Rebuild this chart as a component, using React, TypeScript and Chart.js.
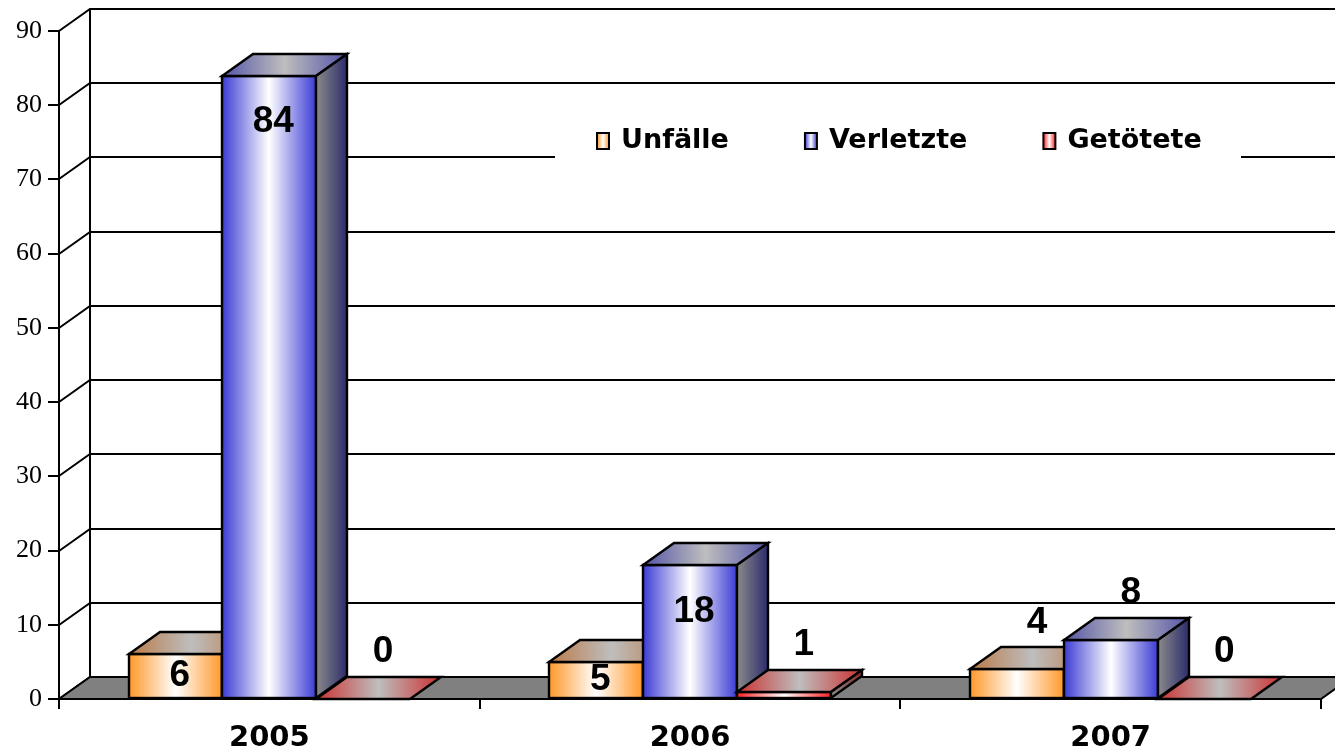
import React, { useEffect, useRef } from 'react';
import { Chart, registerables } from 'chart.js';

Chart.register(...registerables);

// ---- data ----
const categories = ['2005', '2006', '2007'];
const seriesNames = ['Unfälle', 'Verletzte', 'Getötete'];
const unfaelle = [6, 5, 4];
const verletzte = [84, 18, 8];
const getoetete = [0, 1, 0];
const yMin = 0;
const yMax = 90;
const yStep = 10;

// where each value label sits (per series, per category): inside the bar front or above it
const labelPlacement = [
  ['in', 'in', 'out'],
  ['in', 'in', 'out'],
  ['out', 'out', 'out'],
];

// ---- style ----
const seriesStyles = [
  { edge: '#ff982a', top: '#bb7a48', side: '#a0601c' },
  { edge: '#3c3cd4', top: '#5454a8', side: '#2c2c6c' },
  { edge: '#ff1e1e', top: '#cc3030', side: '#8c2a2a' },
];
const DX = 31;
const DY = -22;

function poly(ctx: CanvasRenderingContext2D, pts: number[][]) {
  ctx.beginPath();
  ctx.moveTo(pts[0][0], pts[0][1]);
  for (let i = 1; i < pts.length; i++) ctx.lineTo(pts[i][0], pts[i][1]);
  ctx.closePath();
}

const threeD = {
  id: 'threeD',
  beforeDatasetsDraw(chart: any) {
    const { ctx, chartArea, scales } = chart;
    const ys = scales.y;
    const left = Math.round(chartArea.left);
    const right = Math.round(chartArea.right);
    const top = Math.round(chartArea.top);
    const bottom = Math.round(chartArea.bottom);
    ctx.save();
    ctx.strokeStyle = '#000';
    ctx.lineWidth = 2;
    ctx.lineCap = 'butt';
    // back wall gridlines + side wall diagonals
    ys.ticks.forEach((t: any) => {
      const py = Math.round(ys.getPixelForValue(t.value));
      ctx.beginPath();
      ctx.moveTo(left, py);
      ctx.lineTo(left + DX, py + DY);
      if (t.value > yMin) ctx.lineTo(chart.width + 5, py + DY);
      ctx.stroke();
    });
    ctx.beginPath();
    ctx.moveTo(left + DX, top + DY);
    ctx.lineTo(left + DX, bottom + DY);
    ctx.stroke();
    // floor
    poly(ctx, [
      [left, bottom],
      [right, bottom],
      [right + DX, bottom + DY],
      [left + DX, bottom + DY],
    ]);
    ctx.fillStyle = '#808080';
    ctx.fill();
    ctx.stroke();
    ctx.restore();
  },
  afterDatasetsDraw(chart: any) {
    const { ctx } = chart;
    const metas = seriesNames.map((_, d) => chart.getDatasetMeta(d));
    ctx.save();
    ctx.strokeStyle = '#000';
    ctx.lineWidth = 2.4;
    ctx.lineJoin = 'miter';
    for (let i = 0; i < categories.length; i++) {
      for (let d = 0; d < metas.length; d++) {
        const el = metas[d].data[i];
        if (!el) continue;
        const st = seriesStyles[d];
        const l = Math.round(el.x - el.width / 2);
        const r = Math.round(el.x + el.width / 2);
        const w = r - l;
        const y = Math.round(el.y);
        const b = Math.round(el.base);
        // front
        if (b - y > 0.5) {
          const g = ctx.createLinearGradient(l, 0, r, 0);
          g.addColorStop(0, st.edge);
          g.addColorStop(0.5, '#ffffff');
          g.addColorStop(1, st.edge);
          ctx.fillStyle = g;
          ctx.fillRect(l, y, w, b - y);
          ctx.strokeRect(l, y, w, b - y);
        }
        // top
        const gt = ctx.createLinearGradient(l, 0, r + DX, 0);
        gt.addColorStop(0, st.top);
        gt.addColorStop(0.5, '#bebebe');
        gt.addColorStop(1, st.top);
        poly(ctx, [
          [l, y],
          [r, y],
          [r + DX, y + DY],
          [l + DX, y + DY],
        ]);
        ctx.fillStyle = gt;
        ctx.fill();
        ctx.stroke();
        // side
        if (b - y > 0.5) {
          const gs = ctx.createLinearGradient(r, 0, r + DX, 0);
          gs.addColorStop(0, '#8a8a8a');
          gs.addColorStop(1, st.side);
          poly(ctx, [
            [r, y],
            [r + DX, y + DY],
            [r + DX, b + DY],
            [r, b],
          ]);
          ctx.fillStyle = gs;
          ctx.fill();
          ctx.stroke();
        }
      }
    }
    // value labels
    ctx.fillStyle = '#000';
    ctx.font = 'bold 37px "Liberation Sans", Arial, sans-serif';
    ctx.textAlign = 'center';
    ctx.textBaseline = 'middle';
    for (let d = 0; d < metas.length; d++) {
      const vals = chart.data.datasets[d].data;
      metas[d].data.forEach((el: any, i: number) => {
        const y = el.y;
        const b = el.base;
        let lx: number;
        let ly: number;
        if (labelPlacement[d][i] === 'in') {
          lx = el.x + 4;
          ly = Math.min(y + 46, (y + b) / 2);
        } else {
          lx = el.x + 20;
          ly = y - 47;
        }
        ctx.fillText(String(vals[i]), lx, ly);
      });
    }
    ctx.restore();
  },
  afterDraw(chart: any) {
    const { ctx } = chart;
    ctx.save();
    // legend background
    ctx.fillStyle = '#ffffff';
    ctx.fillRect(555, 118, 686, 52);
    ctx.font = 'bold 27px "DejaVu Sans", Verdana, sans-serif';
    ctx.textBaseline = 'middle';
    ctx.textAlign = 'left';
    let x = 597;
    const cy = 141;
    seriesNames.forEach((name, d) => {
      const st = seriesStyles[d];
      const bw = 12;
      const bh = 16;
      const g = ctx.createLinearGradient(x, 0, x + bw, 0);
      g.addColorStop(0, st.edge);
      g.addColorStop(0.5, '#ffffff');
      g.addColorStop(1, st.edge);
      ctx.fillStyle = g;
      ctx.fillRect(x, cy - bh / 2, bw, bh);
      ctx.strokeStyle = '#000';
      ctx.lineWidth = 2;
      ctx.strokeRect(x, cy - bh / 2, bw, bh);
      ctx.fillStyle = '#000';
      const tx = x + bw + 12;
      ctx.fillText(name, tx, cy);
      x = tx + ctx.measureText(name).width + 76;
    });
    ctx.restore();
  },
};

export default function App() {
  const ref = useRef<HTMLCanvasElement>(null);
  useEffect(() => {
    document.body.style.margin = '0';
    const seriesValues = [unfaelle, verletzte, getoetete];
    const chart = new Chart(ref.current as HTMLCanvasElement, {
      type: 'bar',
      data: {
        labels: categories,
        datasets: seriesNames.map((name, i) => ({
          label: name,
          data: seriesValues[i],
          backgroundColor: 'rgba(0,0,0,0)',
          borderWidth: 0,
          categoryPercentage: 0.668,
          barPercentage: 1,
        })),
      },
      options: {
        responsive: false,
        animation: false,
        devicePixelRatio: 1,
        events: [],
        layout: { padding: { top: 31, right: 14, left: 0, bottom: 0 } },
        plugins: { legend: { display: false }, tooltip: { enabled: false } },
        scales: {
          x: {
            type: 'category',
            offset: true,
            grid: { offset: true, drawOnChartArea: false, color: '#000', lineWidth: 2, tickLength: 10 },
            border: { color: '#000', width: 2 },
            ticks: {
              color: '#000',
              font: { family: '"DejaVu Sans"', size: 29, weight: 'bold' },
              padding: 12,
              maxRotation: 0,
              autoSkip: false,
            },
            afterFit: (s: any) => {
              s.height = 51;
            },
          },
          y: {
            min: yMin,
            max: yMax,
            ticks: {
              stepSize: yStep,
              color: '#000',
              font: { family: '"Liberation Serif"', size: 26 },
              padding: 6,
            },
            grid: { drawOnChartArea: false, color: '#000', lineWidth: 2, tickLength: 11 },
            border: { color: '#000', width: 2 },
            afterFit: (s: any) => {
              s.width = 59;
            },
          },
        },
      } as any,
      plugins: [threeD],
    });
    return () => chart.destroy();
  }, []);
  return (
    <div style={{ position: 'fixed', left: 0, top: 0, width: 1335, height: 750, background: '#fff' }}>
      <canvas ref={ref} width={1335} height={750} style={{ display: 'block', width: 1335, height: 750 }} />
    </div>
  );
}
